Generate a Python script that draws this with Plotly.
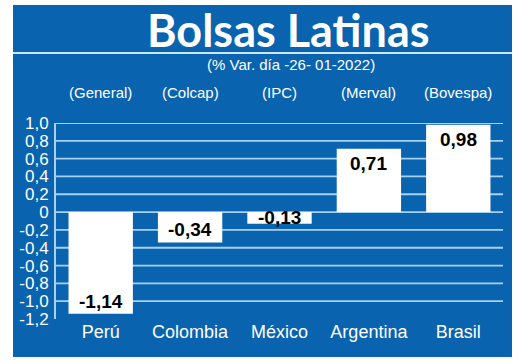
import plotly.graph_objects as go

countries = ["Perú", "Colombia", "México", "Argentina", "Brasil"]
indices = ["(General)", "(Colcap)", "(IPC)", "(Merval)", "(Bovespa)"]
values = [-1.14, -0.34, -0.13, 0.71, 0.98]
value_labels = ["-1,14", "-0,34", "-0,13", "0,71", "0,98"]
tick_vals = [1.0, 0.8, 0.6, 0.4, 0.2, 0, -0.2, -0.4, -0.6, -0.8, -1.0, -1.2]
tick_text = ["1,0", "0,8", "0,6", "0,4", "0,2", "0", "-0,2", "-0,4", "-0,6", "-0,8", "-1,0", "-1,2"]
grid_vals = tick_vals[:-1]

W, H = 520, 364
L, R, T, B = 56, 17, 123, 45
PW, PH = W - L - R, H - T - B

def px(x):
    return (x - L) / PW

def py(y):
    return (H - B - y) / PH

BLUE = "#0a63ae"
LIGHT = "#a6d1f0"
FONT = "Liberation Sans, Arial, sans-serif"

fig = go.Figure()
fig.add_trace(go.Bar(
    x=countries, y=values, width=0.72,
    marker=dict(color="white", line=dict(width=0)),
    hoverinfo="skip",
))

shapes = [
    dict(type="rect", xref="paper", yref="paper", x0=px(13), x1=px(512), y0=py(357), y1=py(5),
         fillcolor=BLUE, line=dict(width=0), layer="below"),
    dict(type="line", xref="paper", yref="paper", x0=px(13), x1=px(512), y0=py(53), y1=py(53),
         line=dict(color="#cfe6f8", width=2), layer="below"),
]
for g in grid_vals:
    shapes.append(dict(type="line", xref="paper", yref="y", x0=0, x1=1, y0=g, y1=g,
                       line=dict(color=LIGHT, width=1.8), layer="below"))

annotations = [
    dict(text="<b>Bolsas Latinas</b>", x=px(288), y=py(30), xref="paper", yref="paper",
         showarrow=False, font=dict(family="Lato, sans-serif", size=45, color="white"),
         xanchor="center", yanchor="middle"),
    dict(text="(% Var. día -26- 01-2022)", x=px(291), y=py(64), xref="paper", yref="paper",
         showarrow=False, font=dict(family=FONT, size=15, color="white"),
         xanchor="center", yanchor="middle"),
]
for c, idx in zip(countries, indices):
    annotations.append(dict(text=idx, x=c, y=py(93), xref="x", yref="paper", showarrow=False,
                            font=dict(family=FONT, size=15, color="white"),
                            xanchor="center", yanchor="middle"))
shifts = {"México": -6}
for c, v, t in zip(countries, values, value_labels):
    annotations.append(dict(text="<b>" + t + "</b>", x=c, y=v, xref="x", yref="y", showarrow=False,
                            font=dict(family=FONT, size=19, color="black"),
                            xanchor="center", yanchor="bottom" if v < 0 else "top",
                            yshift=shifts.get(c, 0) + (-2 if v > 0 else 0)))

fig.update_layout(
    width=W, height=H,
    margin=dict(l=L, r=R, t=T, b=B, pad=0),
    paper_bgcolor="white", plot_bgcolor="rgba(0,0,0,0)",
    showlegend=False, bargap=0.28,
    shapes=shapes, annotations=annotations,
    xaxis=dict(range=[-0.5, 4.5], showgrid=False, zeroline=False, showline=False,
               ticks="", tickfont=dict(family=FONT, size=18, color="white"), fixedrange=True),
    yaxis=dict(range=[-1.2, 1.0], tickvals=tick_vals, ticktext=tick_text,
               showgrid=False, zeroline=False, showline=True, linecolor=LIGHT, linewidth=2,
               ticks="", ticklabelstandoff=2,
               tickfont=dict(family=FONT, size=17, color="white"), fixedrange=True),
)

fig.write_html("out.html")
